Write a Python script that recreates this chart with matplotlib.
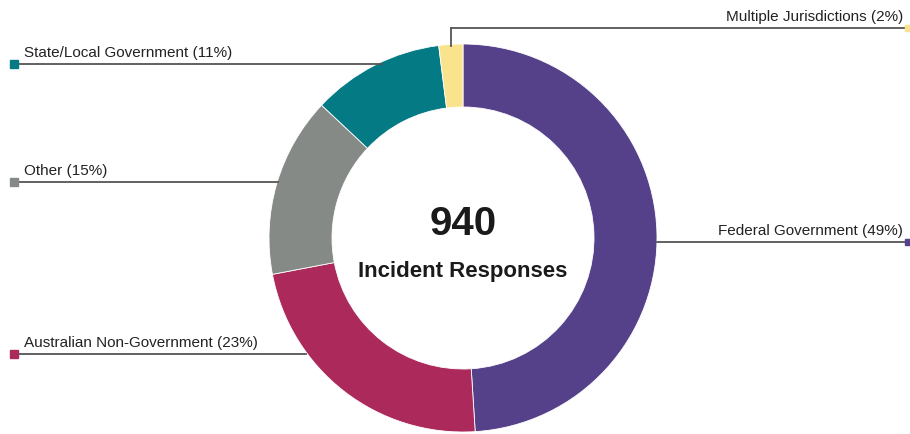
import matplotlib
matplotlib.use("Agg")
import matplotlib.pyplot as plt
from matplotlib.patches import Wedge

# data
categories = ["Federal Government", "Australian Non-Government", "Other",
              "State/Local Government", "Multiple Jurisdictions"]
shares = [49, 23, 15, 11, 2]
colors = ["#55418a", "#ab2a5b", "#858a87", "#037a84", "#f9e38c"]
total = 940

plt.rcParams['font.family'] = ['Liberation Sans Narrow', 'Liberation Sans', 'DejaVu Sans']

W, H = 910, 434
fig = plt.figure(figsize=(W / 100, H / 100), dpi=100)
ax = fig.add_axes([0, 0, 1, 1])
ax.set_xlim(0, W)
ax.set_ylim(0, H)
ax.axis('off')

cx, cy = 463, H - 238
r_out, r_in = 194, 131

# clockwise from 12 o'clock
ang = 90.0
s = float(sum(shares))
for v, c in zip(shares, colors):
    span = 360.0 * v / s
    ax.add_patch(Wedge((cx, cy), r_out, ang - span, ang, width=r_out - r_in,
                       facecolor=c, edgecolor='white', linewidth=0.6))
    ang -= span

ax.text(cx, H - 224, str(total), ha='center', va='center', fontsize=29,
        fontweight='bold', color='#1a1a1a')
ax.text(cx, H - 271, "Incident Responses", ha='center', va='center', fontsize=16,
        fontweight='bold', color='#1a1a1a')

lc = '#555555'
fs = 11

def left_label(i, y, x_end):
    y = H - y
    ax.plot([14, x_end], [y, y], color=lc, lw=1.3, zorder=1)
    ax.plot(14, y, marker='s', ms=6, color=colors[i], zorder=3)
    ax.text(24, y + 4, "%s (%d%%)" % (categories[i], shares[i]), ha='left', va='bottom',
            fontsize=fs, color='#222222')

def right_label(i, y, x_start):
    y = H - y
    ax.plot([x_start, 908], [y, y], color=lc, lw=1.3, zorder=1)
    ax.plot(908, y, marker='s', ms=5, color=colors[i], zorder=3, clip_on=False)
    ax.text(903, y + 4, "%s (%d%%)" % (categories[i], shares[i]), ha='right', va='bottom',
            fontsize=fs, color='#222222')

left_label(3, 64, 382)
left_label(2, 182, 278)
left_label(1, 354, 306)
right_label(0, 242, 657)
right_label(4, 28, 451)
ax.plot([451, 451], [H - 28, H - 46], color=lc, lw=1.3, zorder=1)

fig.savefig("out.png", dpi=100, facecolor='white')
